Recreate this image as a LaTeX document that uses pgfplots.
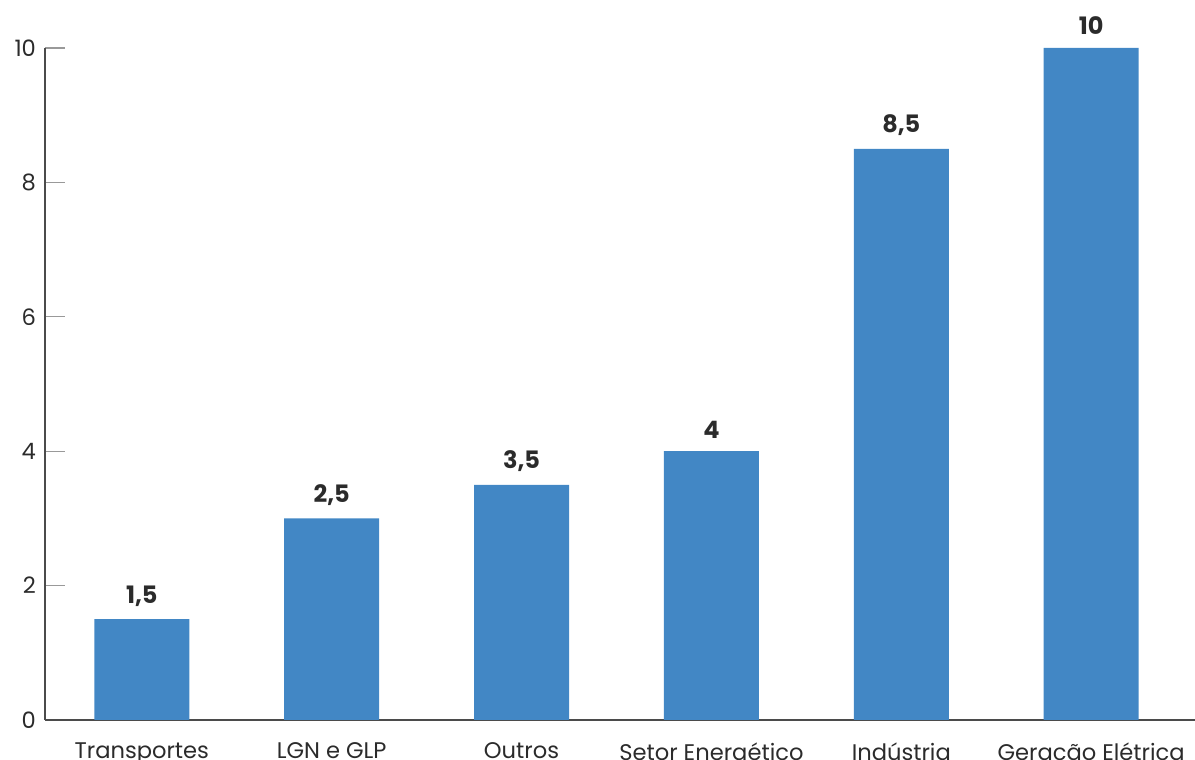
\documentclass[border=0pt]{standalone}
\usepackage{pgfplots}
\pgfplotsset{compat=1.18}
\usepackage{pgfplotstable}
\usepackage{fontspec}
\setmainfont{Poppins}
\definecolor{barblue}{HTML}{4287C5}
\definecolor{txt}{HTML}{2B2B2B}
\pgfplotstableread{
x y lab
0 1.5 {1,5}
1 3 {2,5}
2 3.5 {3,5}
3 4 {4}
4 8.5 {8,5}
5 10 {10}
}\data
\begin{document}
\begin{tikzpicture}
\begin{axis}[
  at={(0,0)}, anchor=south west,
  scale only axis, width=575pt, height=336pt,
  xmin=-0.51, xmax=5.547, ymin=0, ymax=10,
  axis x line=bottom, axis y line=left,
  axis line style={draw=txt!85, line width=0.7pt, -},
  xtick={0,1,2,3,4,5},
  xticklabels={Transportes, LGN e GLP, Outros, Setor Energético, Indústria, Geração Elétrica},
  x tick style={draw=none},
  ytick={0,2,4,6,8,10},
  y tick style={draw=gray!80, line width=0.6pt},
  tick align=inside,
  major tick length=10pt,
  /pgf/number format/assume math mode=true,
  tick label style={font=\fontsize{11.3}{13}\selectfont, text=txt},
  xticklabel style={yshift=-8pt},
  yticklabel style={xshift=-1pt},
  every node near coord/.append style={font=\fontsize{12}{14}\bfseries\selectfont, text=txt, yshift=3pt},
]
\addplot[ybar, bar width=0.5, fill=barblue, draw=none,
  nodes near coords, point meta=explicit symbolic]
  table[x=x, y=y, meta=lab]{\data};
\end{axis}
\pgfresetboundingbox
\useasboundingbox (-22.5pt,-20pt) rectangle (575pt,360pt);
\end{tikzpicture}
\end{document}
